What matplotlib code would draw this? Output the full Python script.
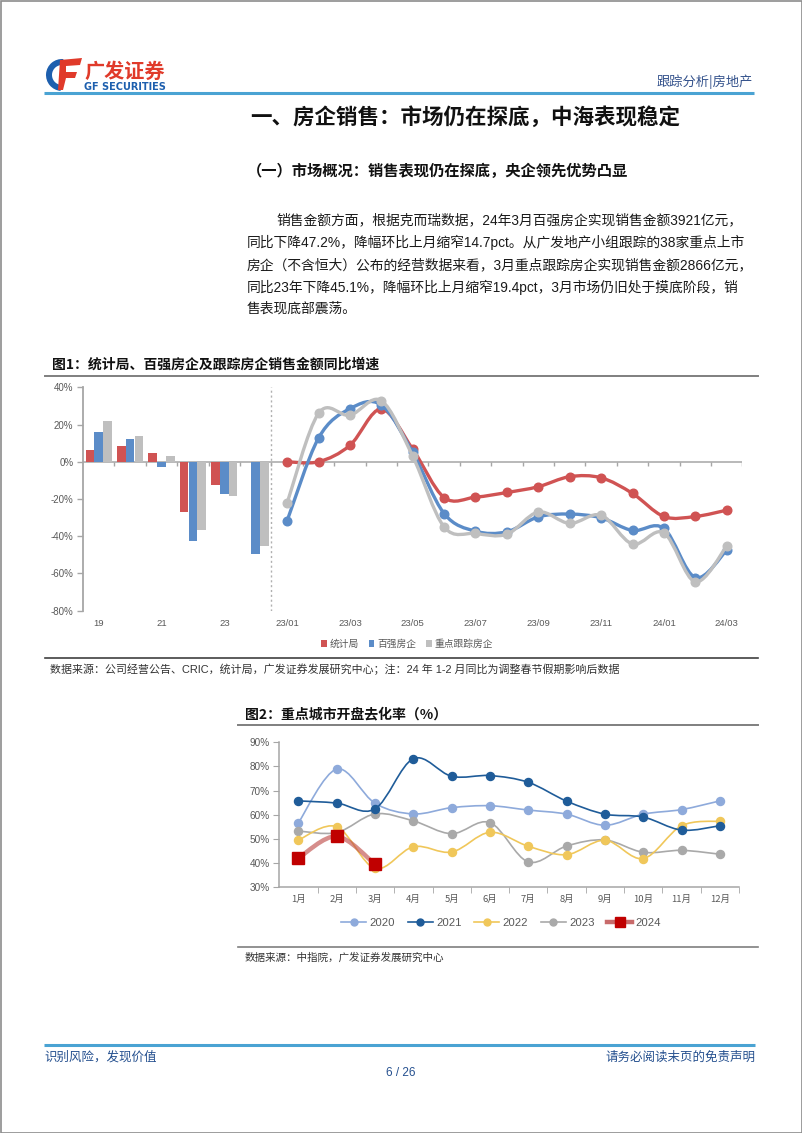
import numpy as np
import matplotlib
matplotlib.use("Agg")
import matplotlib.pyplot as plt
from matplotlib.path import Path
from matplotlib.patches import PathPatch, Rectangle, Wedge, Polygon
from matplotlib.lines import Line2D

plt.rcParams['font.family'] = ['Liberation Sans', 'Noto Sans CJK SC', 'DejaVu Sans']
CJK = ['Noto Sans CJK SC', 'DejaVu Sans']

W, H = 802, 1133

# ---- chart 1 data: annual bars then monthly lines ----
years = ['19', '20', '21', '22', '23', '24']
months = ['23/01', '23/02', '23/03', '23/04', '23/05', '23/06', '23/07', '23/08',
          '23/09', '23/10', '23/11', '23/12', '24/01', '24/02', '24/03']
series1 = ['统计局', '百强房企', '重点跟踪房企']
bar_nbs = [6.3, 8.6, 4.7, -26.9, -12.4, np.nan]
bar_top100 = [16.0, 12.4, -3.0, -42.5, -17.5, -49.3]
bar_tracked = [22.0, 14.0, 3.0, -36.7, -18.3, -45.2]
line_nbs = [0.0, 0.0, 8.8, 28.3, 6.8, -19.2, -19.0, -16.5, -13.4, -8.0, -8.6, -17.0, -29.4, -29.4, -26.0]
line_top100 = [-31.7, 12.7, 28.5, 30.5, 5.0, -27.8, -37.3, -37.6, -29.6, -28.1, -30.1, -36.9, -35.8, -62.2, -47.5]
line_tracked = [-22.2, 26.0, 25.0, 32.8, 3.0, -35.0, -38.5, -38.9, -27.0, -33.1, -28.7, -44.2, -38.2, -64.5, -45.3]

# ---- chart 2 data ----
month_labels = ['1月', '2月', '3月', '4月', '5月', '6月', '7月', '8月', '9月', '10月', '11月', '12月']
r2020 = [56.7, 78.9, 64.7, 60.3, 62.9, 63.7, 61.9, 60.2, 55.6, 60.2, 62.1, 65.7]
r2021 = [65.7, 64.8, 62.4, 83.2, 75.9, 76.2, 73.4, 65.6, 60.2, 59.0, 53.6, 55.4]
r2022 = [49.5, 55.0, 37.7, 46.7, 44.5, 52.7, 46.9, 43.4, 49.4, 41.8, 55.4, 57.3]
r2023 = [53.2, 52.6, 60.3, 57.4, 52.1, 56.7, 40.4, 47.0, 49.5, 44.4, 45.2, 43.6]
r2024 = [42.0, 51.0, 39.4]

RED, BLUE, GRAY = '#d05353', '#5b8cc8', '#bfbfbf'
AX_GRAY = '#a6a6a6'
TXT_GRAY = '#595959'


def smooth_path(xs, ys):
    # Catmull-Rom style Bezier through the data points (like Excel smoothing)
    pts = np.column_stack([xs, ys]).astype(float)
    n = len(pts)
    verts = [pts[0]]
    codes = [Path.MOVETO]
    for i in range(n - 1):
        p0 = pts[i - 1] if i > 0 else pts[i]
        p1, p2 = pts[i], pts[i + 1]
        p3 = pts[i + 2] if i + 2 < n else pts[i + 1]
        verts += [p1 + (p2 - p0) / 6, p2 - (p3 - p1) / 6, p2]
        codes += [Path.CURVE4] * 3
    return Path(verts, codes)


def smooth_line(ax, xs, ys, color, lw, marker, ms, z=3, alpha=1.0, mcolor=None):
    ax.add_patch(PathPatch(smooth_path(xs, ys), fill=False, ec=color, lw=lw,
                           alpha=alpha, zorder=z, capstyle='round', joinstyle='round'))
    mc = mcolor or color
    ax.plot(xs, ys, ls='none', marker=marker, ms=ms, mfc=mc, mec=mc, zorder=z + 0.1)


def px_axes(l, t, r, b):
    return fig.add_axes([l / W, 1 - b / H, (r - l) / W, (b - t) / H])


fig = plt.figure(figsize=(W / 100, H / 100), dpi=100)

# page layer in pixel coordinates
bg = fig.add_axes([0, 0, 1, 1])
bg.set_xlim(0, W)
bg.set_ylim(H, 0)
bg.axis('off')
bg.add_patch(Rectangle((0.5, 0.5), W - 1, H - 1, fill=False, ec='#8c8c8c', lw=1.2))

# logo
bg.add_patch(Wedge((62, 75), 16, 95, 275, width=6, fc='#1d5fae', ec='none'))
bg.add_patch(Polygon([(60, 60), (82, 58), (80, 65), (66, 66), (66, 72), (77, 72),
                      (75, 78), (66, 78), (63, 90), (58, 90)], closed=True, fc='#e03a2a', ec='none'))
bg.text(84, 71, '广发证券', fontsize=14.5, weight='bold', color='#e03a2a', family=CJK,
        va='center', ha='left')
bg.text(84, 86.5, 'GF SECURITIES', fontsize=7, weight='bold', color='#1d5fae',
        va='center', ha='left', family=['DejaVu Sans'])
bg.text(753, 82, '跟踪分析|房地产', fontsize=9.5, color='#34528c', family=CJK, va='center', ha='right')
bg.plot([44, 754], [92.5, 92.5], color='#4aa3d3', lw=2.2, solid_capstyle='butt')

# headings and paragraph
bg.text(465, 117, '一、房企销售：市场仍在探底，中海表现稳定', fontsize=15.5, weight='bold',
        family=CJK, ha='center', va='center', color='#111111')
bg.text(247, 171, '（一）市场概况：销售表现仍在探底，央企领先优势凸显', fontsize=11, weight='bold',
        family=CJK, ha='left', va='center', color='#111111')
para = ['销售金额方面，根据克而瑞数据，24年3月百强房企实现销售金额3921亿元，',
        '同比下降47.2%，降幅环比上月缩窄14.7pct。从广发地产小组跟踪的38家重点上市',
        '房企（不含恒大）公布的经营数据来看，3月重点跟踪房企实现销售金额2866亿元，',
        '同比23年下降45.1%，降幅环比上月缩窄19.4pct，3月市场仍旧处于摸底阶段，销',
        '售表现底部震荡。']
para_y = [220, 242.5, 265, 287, 308.5]
for i, (line, y) in enumerate(zip(para, para_y)):
    bg.text(276 if i == 0 else 247, y, line, fontsize=9.95, color='#1a1a1a', ha='left', va='center')

# chart 1 frame texts
bg.text(52, 365, '图1：统计局、百强房企及跟踪房企销售金额同比增速', fontsize=10, weight='bold',
        family=CJK, ha='left', va='center', color='#111111')
bg.plot([45, 758], [376, 376], color='#7f7f7f', lw=1.4)
bg.plot([45, 758], [657.5, 657.5], color='#404040', lw=1.2)
bg.text(50, 669.5, '数据来源：公司经营公告、CRIC，统计局，广发证券发展研究中心；注：24 年 1-2 月同比为调整春节假期影响后数据',
        fontsize=7.9, color='#333333', ha='left', va='center')

# chart 2 frame texts
bg.text(245, 714, '图2：重点城市开盘去化率（%）', fontsize=10, weight='bold',
        family=CJK, ha='left', va='center', color='#111111')
bg.plot([238, 758], [725, 725], color='#7f7f7f', lw=1.4)
bg.plot([238, 758], [947, 947], color='#7f7f7f', lw=1.2)
bg.text(245, 958, '数据来源：中指院，广发证券发展研究中心', fontsize=7.6, color='#333333',
        ha='left', va='center')

# footer
bg.plot([44, 755], [1045, 1045], color='#4aa3d3', lw=2.2, solid_capstyle='butt')
bg.text(44, 1057, '识别风险，发现价值', fontsize=9, color='#25508f', family=CJK, ha='left', va='center')
bg.text(755, 1057, '请务必阅读末页的免责声明', fontsize=9, color='#25508f', family=CJK, ha='right', va='center')
bg.text(401, 1073, '6 / 26', fontsize=8.5, color='#25508f', ha='center', va='center')

# ---- chart 1 ----
ax = px_axes(83, 387.3, 742.4, 610.7)
cats = years + months
xb = np.arange(len(years))
bw, off = 0.27, 0.28
bars = [ax.bar(xb - off, bar_nbs, bw, color=RED, zorder=2),
        ax.bar(xb, bar_top100, bw, color=BLUE, zorder=2),
        ax.bar(xb + off, bar_tracked, bw, color=GRAY, zorder=2)]
xm = np.arange(len(years), len(cats))
smooth_line(ax, xm, line_nbs, RED, 2.4, 'o', 6.2)
smooth_line(ax, xm, line_top100, BLUE, 2.4, 'o', 6.2, z=3.3)
smooth_line(ax, xm, line_tracked, GRAY, 2.4, 'o', 6.2, z=3.6)

ax.set_xlim(-0.5, len(cats) - 0.5)
ax.set_ylim(-80, 40)
ax.set_yticks(np.arange(-80, 41, 20))
ax.set_yticklabels([f'{v}%' for v in range(-80, 41, 20)])
ax.set_xticks(np.arange(0, len(cats), 2))
ax.set_xticklabels(cats[::2])
ax.tick_params(axis='x', length=0, pad=6, labelsize=6.8, labelcolor=TXT_GRAY)
ax.tick_params(axis='y', length=4, color=AX_GRAY, width=1, direction='out', pad=3,
               labelsize=7, labelcolor=TXT_GRAY)
for s in ['top', 'right', 'bottom']:
    ax.spines[s].set_visible(False)
ax.spines['left'].set_color(AX_GRAY)
ax.spines['left'].set_linewidth(1.3)
ax.axhline(0, color=AX_GRAY, lw=1.1, zorder=1.5)
ax.vlines(np.arange(0.5, len(cats), 1), -2.2, 0, color=AX_GRAY, lw=1, zorder=1.5)
ax.axvline(len(years) - 0.5, color='#b0b0b0', ls=(0, (1.5, 2)), lw=1, zorder=1)
ax.set_facecolor('none')
fig.legend(bars, series1, loc='center', bbox_to_anchor=(407 / W, 1 - 644 / H), ncol=3,
           frameon=False, labelcolor=TXT_GRAY, handlelength=0.6, handleheight=0.6,
           handletextpad=0.3, columnspacing=1.0, prop={'family': CJK, 'size': 7})

# ---- chart 2 ----
ax2 = px_axes(279.3, 742.3, 739, 887)
x2 = np.arange(len(month_labels))
c2020, c2021, c2022, c2023 = '#8eaadb', '#1f5c99', '#f0c75a', '#a9a9a9'
smooth_line(ax2, x2, r2020, c2020, 1.2, 'o', 5.8)
smooth_line(ax2, x2, r2021, c2021, 1.2, 'o', 5.8, z=3.2)
smooth_line(ax2, x2, r2022, c2022, 1.2, 'o', 5.8, z=3.1)
smooth_line(ax2, x2, r2023, c2023, 1.2, 'o', 5.8, z=3.05)
smooth_line(ax2, x2[:len(r2024)], r2024, '#c0504d', 3.2, 's', 8, z=4, alpha=0.65, mcolor='#c00000')

ax2.set_xlim(-0.5, 11.5)
ax2.set_ylim(30, 90)
ax2.set_yticks(np.arange(30, 91, 10))
ax2.set_yticklabels([f'{v}%' for v in range(30, 91, 10)])
ax2.set_xticks(x2)
ax2.set_xticklabels(month_labels, family=CJK)
ax2.set_xticks(np.arange(0.5, 12, 1), minor=True)
ax2.tick_params(axis='x', which='major', length=0, pad=6, labelsize=6.8, labelcolor=TXT_GRAY)
ax2.tick_params(axis='x', which='minor', length=4, color=AX_GRAY, direction='out')
ax2.tick_params(axis='y', length=4, color=AX_GRAY, direction='out', pad=3,
                labelsize=7.2, labelcolor=TXT_GRAY)
for s in ['top', 'right']:
    ax2.spines[s].set_visible(False)
for s in ['left', 'bottom']:
    ax2.spines[s].set_color(AX_GRAY)
    ax2.spines[s].set_linewidth(1.1)
ax2.set_facecolor('none')

handles = [Line2D([], [], color=c2020, lw=1.2, marker='o', ms=5),
           Line2D([], [], color=c2021, lw=1.2, marker='o', ms=5),
           Line2D([], [], color=c2022, lw=1.2, marker='o', ms=5),
           Line2D([], [], color=c2023, lw=1.2, marker='o', ms=5),
           Line2D([], [], color='#c86a6a', lw=3.2, marker='s', ms=7, mfc='#c00000', mec='#c00000')]
fig.legend(handles, ['2020', '2021', '2022', '2023', '2024'], loc='center',
           bbox_to_anchor=(501 / W, 1 - 923 / H), ncol=5, frameon=False, fontsize=8.2,
           labelcolor=TXT_GRAY, handlelength=2.2, handletextpad=0.3, columnspacing=1.1)

fig.savefig('out.png', dpi=100)
